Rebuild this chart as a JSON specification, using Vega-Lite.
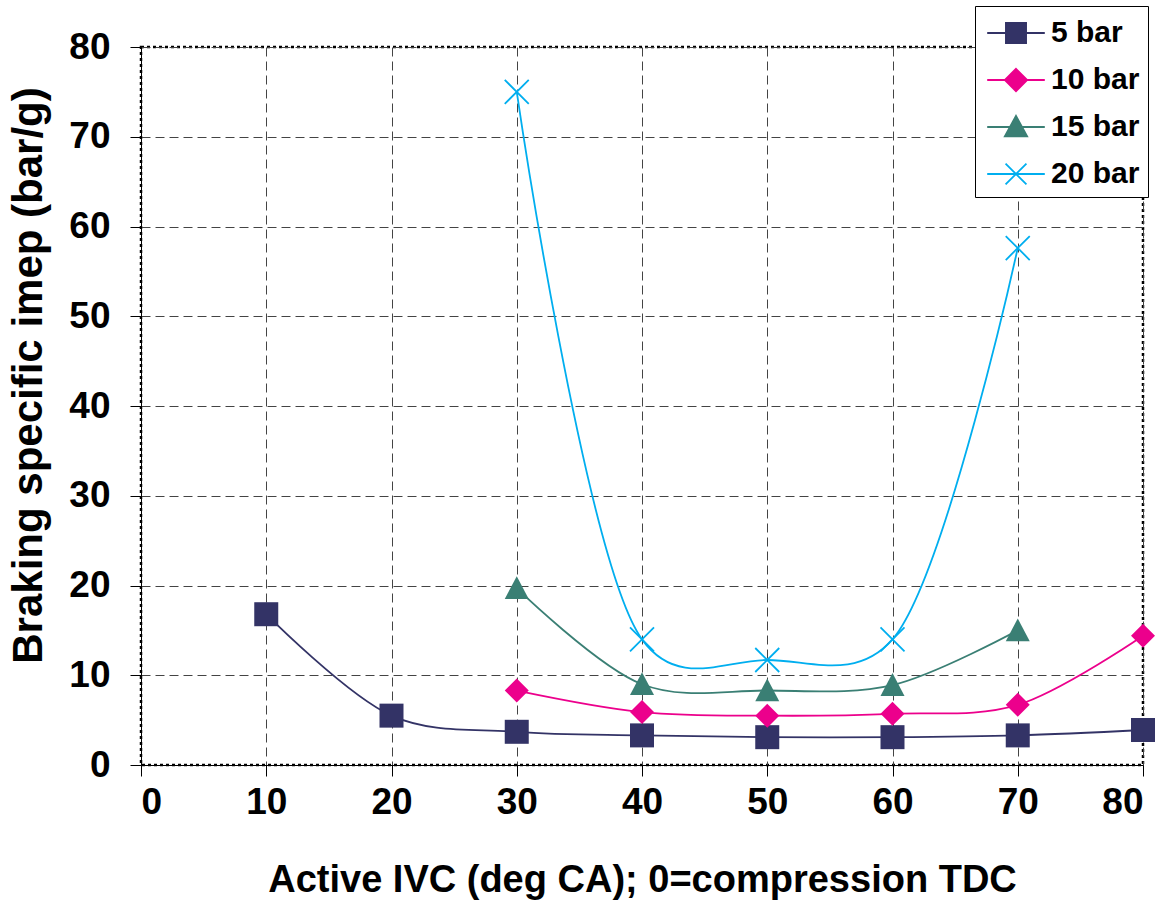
{
  "$schema": "https://vega.github.io/schema/vega-lite/v6.json",
  "width": 1002,
  "height": 718,
  "autosize": {"type": "none"},
  "padding": {"left": 141, "top": 47, "right": 24, "bottom": 140},
  "background": "white",
  "config": {
    "font": "Liberation Sans",
    "view": {"stroke": "black", "strokeDash": [3, 3], "strokeWidth": 2.5},
    "axis": {
      "labelFont": "Liberation Sans", "labelFontWeight": "bold", "labelFontSize": 37, "labelColor": "black",
      "titleFont": "Liberation Sans", "titleFontWeight": "bold", "titleFontSize": 38, "titleColor": "black",
      "domainColor": "black", "domainWidth": 1, "tickColor": "black", "tickWidth": 1, "tickSize": 11,
      "gridColor": "#444444", "gridDash": [9, 5], "gridWidth": 1
    },
    "legend": {
      "orient": "none", "legendX": 834, "legendY": -41,
      "title": null, "padding": 8, "symbolSize": 1296, "rowPadding": 13,
      "symbolOffset": 14, "labelOffset": 16,
      "labelFont": "Liberation Sans", "labelFontWeight": "bold", "labelFontSize": 30, "labelColor": "black",
      "strokeColor": "black", "fillColor": "white", "symbolStrokeWidth": 1.8, "symbolOpacity": 1
    }
  },
  "data": {"values": [
    {"ivc": 10, "v": 16.8, "s": "5 bar"},
    {"ivc": 20, "v": 5.5, "s": "5 bar"},
    {"ivc": 30, "v": 3.7, "s": "5 bar"},
    {"ivc": 40, "v": 3.3, "s": "5 bar"},
    {"ivc": 50, "v": 3.1, "s": "5 bar"},
    {"ivc": 60, "v": 3.1, "s": "5 bar"},
    {"ivc": 70, "v": 3.3, "s": "5 bar"},
    {"ivc": 80, "v": 3.9, "s": "5 bar"},
    {"ivc": 30, "v": 8.3, "s": "10 bar"},
    {"ivc": 40, "v": 5.9, "s": "10 bar"},
    {"ivc": 50, "v": 5.5, "s": "10 bar"},
    {"ivc": 60, "v": 5.7, "s": "10 bar"},
    {"ivc": 70, "v": 6.7, "s": "10 bar"},
    {"ivc": 80, "v": 14.4, "s": "10 bar"},
    {"ivc": 30, "v": 19.7, "s": "15 bar"},
    {"ivc": 40, "v": 9.0, "s": "15 bar"},
    {"ivc": 50, "v": 8.3, "s": "15 bar"},
    {"ivc": 60, "v": 8.9, "s": "15 bar"},
    {"ivc": 70, "v": 15.0, "s": "15 bar"},
    {"ivc": 30, "v": 75.0, "s": "20 bar"},
    {"ivc": 40, "v": 14.0, "s": "20 bar"},
    {"ivc": 50, "v": 11.7, "s": "20 bar"},
    {"ivc": 60, "v": 14.0, "s": "20 bar"},
    {"ivc": 70, "v": 57.6, "s": "20 bar"}
  ]},
  "encoding": {
    "x": {"field": "ivc", "type": "quantitative", "scale": {"domain": [0, 80], "nice": false},
      "axis": {"values": [0, 10, 20, 30, 40, 50, 60, 70, 80], "labelPadding": 8, "titlePadding": 41},
      "title": "Active IVC (deg CA); 0=compression TDC"},
    "y": {"field": "v", "type": "quantitative", "scale": {"domain": [0, 80], "nice": false},
      "axis": {"values": [0, 10, 20, 30, 40, 50, 60, 70, 80], "labelPadding": 20, "titlePadding": 18, "titleFontSize": 42, "titleY": 328},
      "title": "Braking specific imep (bar/g)"}
  },
  "layer": [
    {
      "mark": {"type": "line", "interpolate": "catmull-rom", "tension": 0.3, "strokeWidth": 1.8},
      "encoding": {"color": {"field": "s", "type": "nominal",
        "scale": {"domain": ["5 bar", "10 bar", "15 bar", "20 bar"], "range": ["#333366", "#EC008C", "#3A7F74", "#00AEEF"]}}}
    },
    {
      "transform": [{"filter": {"field": "s", "equal": "5 bar"}}],
      "mark": {"type": "point", "filled": true, "opacity": 1, "color": "#333366", "size": 576, "shape": "M-1,-1H1V1H-1Z"}
    },
    {
      "transform": [{"filter": {"field": "s", "equal": "10 bar"}}],
      "mark": {"type": "point", "filled": true, "opacity": 1, "color": "#EC008C", "size": 576, "shape": "M0,-1L1,0L0,1L-1,0Z"}
    },
    {
      "transform": [{"filter": {"field": "s", "equal": "15 bar"}}],
      "mark": {"type": "point", "filled": true, "opacity": 1, "color": "#3A7F74", "size": 576, "shape": "M0,-1L1,0.9H-1Z"}
    },
    {
      "transform": [{"filter": {"field": "s", "equal": "20 bar"}}],
      "mark": {"type": "point", "filled": false, "opacity": 1, "color": "#00AEEF", "strokeWidth": 1.8, "size": 576, "shape": "M-1,-1L1,1M-1,1L1,-1"}
    },
    {
      "mark": {"type": "point", "filled": true, "opacity": 1, "strokeWidth": 1.8, "size": 0},
      "encoding": {
        "color": {"field": "s", "type": "nominal",
          "scale": {"domain": ["5 bar", "10 bar", "15 bar", "20 bar"], "range": ["#333366", "#EC008C", "#3A7F74", "#00AEEF"]}},
        "stroke": {"field": "s", "type": "nominal",
          "scale": {"domain": ["5 bar", "10 bar", "15 bar", "20 bar"], "range": ["#333366", "#EC008C", "#3A7F74", "#00AEEF"]}},
        "shape": {"field": "s", "type": "nominal",
          "scale": {"domain": ["5 bar", "10 bar", "15 bar", "20 bar"],
            "range": ["M-1.6,0H1.6M-0.56,-0.56H0.56V0.56H-0.56Z", "M-1.6,0H1.6M0,-0.62L0.62,0L0,0.62L-0.62,0Z", "M-1.6,0H1.6M0,-0.62L0.62,0.52H-0.62Z", "M-1.6,0H1.6M-0.58,-0.58L0.58,0.58M-0.58,0.58L0.58,-0.58"]}}
      }
    }
  ]
}
